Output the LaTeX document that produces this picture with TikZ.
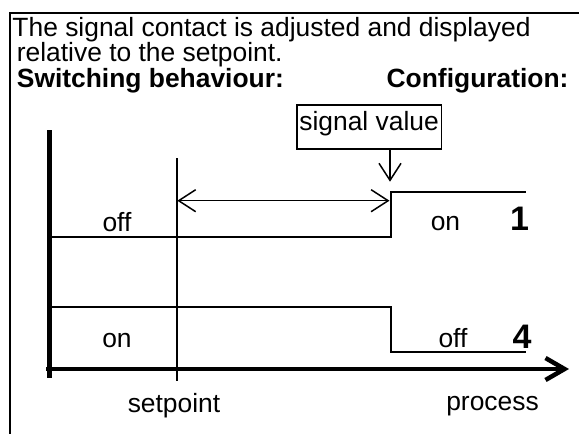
\documentclass[tikz,border=0pt]{standalone}
\usepackage{fontspec}
\setmainfont{Liberation Sans}
\usetikzlibrary{arrows.meta}
\begin{document}
\begin{tikzpicture}[x=1pt,y=-1pt,
  txt/.style={inner sep=0pt,font=\fontsize{26.4}{30}\selectfont},
  big/.style={inner sep=0pt,font=\fontsize{34}{38}\selectfont\bfseries},
  frameline/.style={line width=2pt},
  axis/.style={line width=4.5pt},
  sig/.style={line width=2pt},
  thin/.style={line width=1.5pt},
  barb/.style={-{Straight Barb[length=17pt,width=22pt]}},
  dbarb/.style={{Straight Barb[length=17pt,width=22pt]}-{Straight Barb[length=17pt,width=22pt]}}
]
\useasboundingbox (0,0) rectangle (579,434);
% frame
\coordinate (fTL) at (10.3,12.7);
\coordinate (fTR) at (579,12.7);
\coordinate (fBL) at (10.3,434);
\draw[frameline] (fTR) -- (fTL) -- (fBL);
% header text (one node, three lines)
\node[inner sep=0pt,anchor=north west,text width=556pt,align=flush left,
      font=\fontsize{26.4}{24.3}\selectfont] (head) at (12.3,17)
  {The signal contact is adjusted and displayed\\
   \hspace*{4.4pt}relative to the setpoint.\\
   \hspace*{4.4pt}\textbf{Switching behaviour:}\hfill\textbf{Configuration:}};
% axes
\coordinate (yTop) at (49.3,130);
\coordinate (yBot) at (49.3,378);
\coordinate (xL) at (46,369);
\coordinate (xR) at (569,369);
\draw[axis] (yTop) -- (yBot);
\draw[axis,-{Straight Barb[length=19pt,width=22pt]}] (xL) -- (xR);
% setpoint line
\coordinate (spTop) at (177.3,158);
\coordinate (spBot) at (177.3,381);
\draw[sig] (spTop) -- (spBot);
% configuration 1
\coordinate (a0) at (49,236.7);
\coordinate (a1) at (390.7,236.7);
\coordinate (a2) at (390.7,192);
\coordinate (a3) at (526,192);
\draw[sig] (a0) -- (a1) -- (a2) -- (a3);
% configuration 4
\coordinate (b0) at (49,306.7);
\coordinate (b1) at (390.7,306.7);
\coordinate (b2) at (390.7,352);
\coordinate (b3) at (526,352);
\draw[sig] (b0) -- (b1) -- (b2) -- (b3);
% double arrow
\coordinate (dL) at (177.3,200.7);
\coordinate (dR) at (389.5,200.7);
\draw[thin,dbarb] (dL) -- (dR);
% signal value box
\node[draw,thin,inner sep=0pt,minimum width=144.7pt,minimum height=44.3pt,anchor=north west] (sv) at (296,104) {};
\node[txt,anchor=base] (svt) at ([yshift=-3.8pt]sv.center) {signal value};
\coordinate (svTip) at (390,181.7);
\draw[thin,barb] (sv.south -| svTip) -- (svTip);
% labels
\node[txt,anchor=base] (off1) at (117,231) {off};
\node[txt,anchor=base] (on1) at (445.5,230) {on};
\node[big,anchor=base] (n1) at (519.5,230.7) {1};
\node[txt,anchor=base] (on4) at (117,347) {on};
\node[txt,anchor=base] (off4) at (453,347) {off};
\node[big,anchor=base] (n4) at (522,348) {4};
\node[txt,anchor=base] (spt) at (174,412) {setpoint};
\node[txt,anchor=base] (proc) at (492.5,410) {process};
\end{tikzpicture}
\end{document}
